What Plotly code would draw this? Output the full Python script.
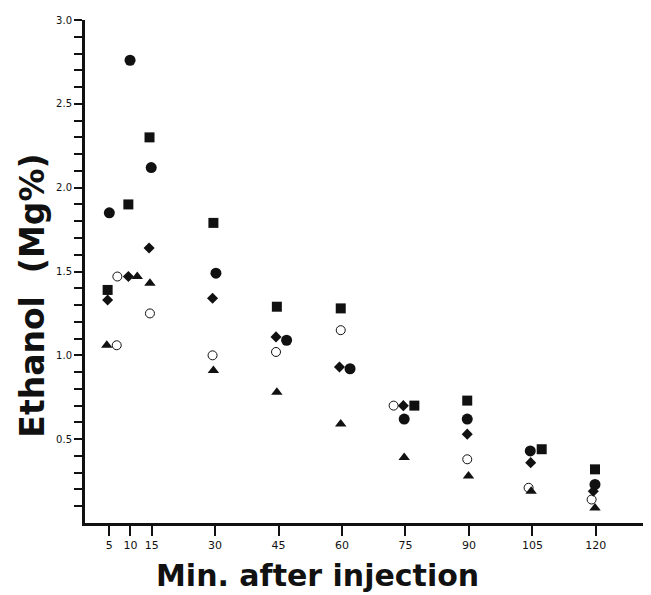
import plotly.graph_objects as go

# Minutes after injection (as plotted, with small side-by-side offsets) and ethanol values
circle_t = [5.0, 9.9, 14.9, 30.2, 46.9, 61.9, 74.7, 89.6, 104.5, 119.8]
circle_v = [1.85, 2.76, 2.12, 1.49, 1.09, 0.92, 0.62, 0.62, 0.43, 0.23]

square_t = [4.6, 9.5, 14.5, 29.6, 44.6, 59.7, 77.1, 89.6, 107.2, 119.8]
square_v = [1.39, 1.90, 2.30, 1.79, 1.29, 1.28, 0.70, 0.73, 0.44, 0.32]

diamond_t = [4.6, 9.5, 14.4, 29.4, 44.4, 59.4, 74.5, 89.6, 104.6, 119.4]
diamond_v = [1.33, 1.47, 1.64, 1.34, 1.11, 0.93, 0.70, 0.53, 0.36, 0.19]

triangle_t = [4.4, 11.6, 14.6, 29.6, 44.6, 59.7, 74.7, 89.9, 104.7, 119.8]
triangle_v = [1.06, 1.47, 1.43, 0.91, 0.78, 0.59, 0.39, 0.28, 0.19, 0.09]

open_t = [6.75, 6.9, 14.6, 29.4, 44.4, 59.7, 72.2, 89.6, 104.1, 119.0]
open_v = [1.06, 1.47, 1.25, 1.00, 1.02, 1.15, 0.70, 0.38, 0.21, 0.14]

x_ticks = [5, 10, 15, 30, 45, 60, 75, 90, 105, 120]
y_ticks = [0.5, 1.0, 1.5, 2.0, 2.5, 3.0]
y_ticktext = ["0.5", "1.0", "1.5", "2.0", "2.5", "3.0"]
y_minor = [round(0.1 * i, 1) for i in range(1, 30)]

INK = "#111111"

fig = go.Figure()
fig.add_trace(go.Scatter(x=circle_t, y=circle_v, mode="markers",
                         marker=dict(symbol="circle", size=11, color=INK)))
fig.add_trace(go.Scatter(x=square_t, y=square_v, mode="markers",
                         marker=dict(symbol="square", size=10, color=INK)))
fig.add_trace(go.Scatter(x=diamond_t, y=diamond_v, mode="markers",
                         marker=dict(symbol="diamond", size=8.5, color=INK)))
fig.add_trace(go.Scatter(x=triangle_t, y=triangle_v, mode="markers",
                         marker=dict(symbol="triangle-up", size=10, color=INK)))
fig.add_trace(go.Scatter(x=open_t, y=open_v, mode="markers",
                         marker=dict(symbol="circle-open", size=9, color=INK,
                                     line=dict(width=1, color=INK))))

# page body has an 8px margin, so the figure is sized/offset to compensate
fig.update_layout(
    width=643, height=587,
    margin=dict(l=77, r=1, t=12, b=72),
    paper_bgcolor="white", plot_bgcolor="white",
    showlegend=False,
    font=dict(family="DejaVu Sans", color=INK),
    xaxis=dict(range=[-0.75, 132.8], tickmode="array", tickvals=x_ticks,
               showline=True, linewidth=3, linecolor=INK,
               ticks="outside", ticklen=10, tickwidth=2, tickcolor=INK,
               tickfont=dict(size=11, family="DejaVu Sans", color=INK),
               showgrid=False, zeroline=False),
    yaxis=dict(range=[0, 3.0], tickmode="array", tickvals=y_ticks, ticktext=y_ticktext,
               showline=True, linewidth=3, linecolor=INK,
               ticks="outside", ticklen=8, tickwidth=2, tickcolor=INK,
               tickfont=dict(size=10, family="DejaVu Sans", color=INK),
               minor=dict(tickmode="array", tickvals=y_minor, ticks="outside",
                          ticklen=8, tickwidth=2, tickcolor=INK),
               showgrid=False, zeroline=False),
    annotations=[
        dict(text="<b>Ethanol  (Mg%)</b>", xref="paper", yref="paper",
             x=-0.092, y=0.452, xanchor="center", yanchor="middle",
             textangle=-90, showarrow=False,
             font=dict(size=33, family="DejaVu Sans", color=INK)),
        dict(text="<b>Min. after injection</b>", xref="paper", yref="paper",
             x=0.4115, y=-0.104, xanchor="center", yanchor="middle",
             showarrow=False,
             font=dict(size=30, family="DejaVu Sans", color=INK)),
    ],
)

fig.write_html("out.html")
